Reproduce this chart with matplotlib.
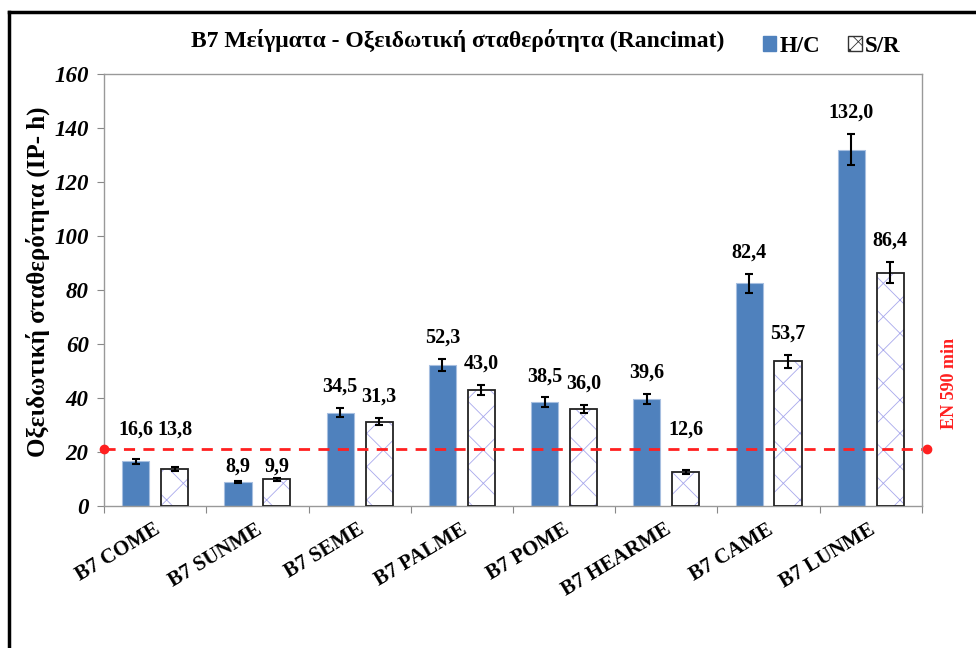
import numpy as np
import matplotlib
matplotlib.use("Agg")
import matplotlib.pyplot as plt
from matplotlib.patches import Patch
from matplotlib.lines import Line2D

plt.rcParams['font.family'] = ['Liberation Serif', 'DejaVu Serif']
plt.rcParams['hatch.linewidth'] = 0.6

# oxidation stability (Rancimat induction period, h)
categories = ["B7 COME", "B7 SUNME", "B7 SEME", "B7 PALME",
              "B7 POME", "B7 HEARME", "B7 CAME", "B7 LUNME"]
hc_values = [16.6, 8.9, 34.5, 52.3, 38.5, 39.6, 82.4, 132.0]
sr_values = [13.8, 9.9, 31.3, 43.0, 36.0, 12.6, 53.7, 86.4]
hc_err = [0.9, 0.5, 1.7, 2.3, 1.7, 1.8, 3.6, 5.8]
sr_err = [0.8, 0.5, 1.4, 1.9, 1.6, 0.6, 2.4, 3.8]
en590_min = 21

fig = plt.figure(figsize=(9.76, 6.48), dpi=100)
ax = fig.add_axes([0.1066, 0.219, 0.838, 0.667])

x = np.arange(len(categories))
w = 0.265
blue = '#4F81BD'

ax.bar(x - 0.19, hc_values, w, color=blue, edgecolor='#a7bfe0', linewidth=0.8, zorder=2)
ax.errorbar(x - 0.19, hc_values, yerr=hc_err, fmt='none', ecolor='black',
            elinewidth=1.5, capsize=3, capthick=1.5, zorder=4)

# hatched fill first, then the black outline on top
ax.bar(x + 0.19, sr_values, w, color='white', edgecolor='#a8a8ec', hatch='x',
       linewidth=0, zorder=2)
ax.bar(x + 0.19, sr_values, w, fill=False, edgecolor='#222222', linewidth=1.3, zorder=3)
ax.errorbar(x + 0.19, sr_values, yerr=sr_err, fmt='none', ecolor='black',
            elinewidth=1.5, capsize=3, capthick=1.5, zorder=4)

# value labels above the error bars, kept clear of the EN 590 line
pad, lab_h = 4.2, 6.5
below = en590_min - 2.5
for xs, vals, errs in ((x - 0.19, hc_values, hc_err), (x + 0.19, sr_values, sr_err)):
    for xi, v, e in zip(xs, vals, errs):
        top = v + e
        y0, va = top + pad, 'bottom'
        if y0 < en590_min + 1 and y0 + lab_h > en590_min - 1.5:
            if top + 1.5 < below - lab_h:
                y0, va = below, 'top'   # fits under the line
            else:
                y0 = en590_min + 3.8
        ax.text(xi, y0, f"{v:.1f}".replace('.', ','), ha='center', va=va,
                fontsize=14.5, fontweight='bold', zorder=6)

# EN 590 limit line with end markers
ax.axhline(en590_min, color='#ff2020', ls=(0, (4, 3)), lw=2, zorder=5)
ax.plot([-0.5, 7.55], [en590_min, en590_min], 'o', color='#ff2020', ms=6,
        clip_on=False, zorder=6)
fig.text(0.973, 0.409, "EN 590 min", rotation=90, color='#ff2020', ha='center',
         va='center', fontsize=13, fontweight='bold')

ax.set_xlim(-0.5, 7.5)
ax.set_ylim(0, 160)
ax.set_yticks(np.arange(0, 161, 20))
ax.tick_params(axis='y', labelsize=16.5, length=5, color='#888888', pad=6)
for lab in ax.get_yticklabels():
    lab.set_fontstyle('italic')
    lab.set_fontweight('bold')

ax.set_xticks(np.arange(-0.5, 8, 1), minor=False)
ax.set_xticklabels([])
ax.tick_params(axis='x', length=5, color='#888888')
for xi, name in zip(x, categories):
    ax.text(xi - 0.02, -5, name, rotation=31, rotation_mode='anchor', ha='right',
            va='top', fontsize=15, fontweight='bold', transform=ax.transData)

for s in ax.spines.values():
    s.set_color('#999999')
    s.set_linewidth(1)

fig.text(0.039, 1 - 282 / 648, "Οξειδωτική σταθερότητα (IP- h)", rotation=90,
         ha='center', va='center', fontsize=18, fontweight='bold')

fig.text(0.469, 0.937, "B7 Μείγματα - Οξειδωτική σταθερότητα (Rancimat)",
         ha='center', va='center', fontsize=17, fontweight='bold')

handles = [Patch(facecolor=blue, edgecolor=blue),
           Patch(facecolor='white', edgecolor='#333333', hatch='xx')]
fig.legend(handles, ['H/C', 'S/R'], loc='center', bbox_to_anchor=(0.852, 0.929),
           ncol=2, frameon=False, handlelength=0.6, handleheight=0.6,
           handletextpad=0.15, columnspacing=1.2,
           prop={'size': 16.5, 'weight': 'bold'})

# outer chart border
fig.add_artist(Line2D([0.0092, 0.0092], [0, 0.982], color='black', lw=2.5))
fig.add_artist(Line2D([0.0092, 1.0], [0.982, 0.982], color='black', lw=2.5))

fig.savefig('out.png', dpi=100)
